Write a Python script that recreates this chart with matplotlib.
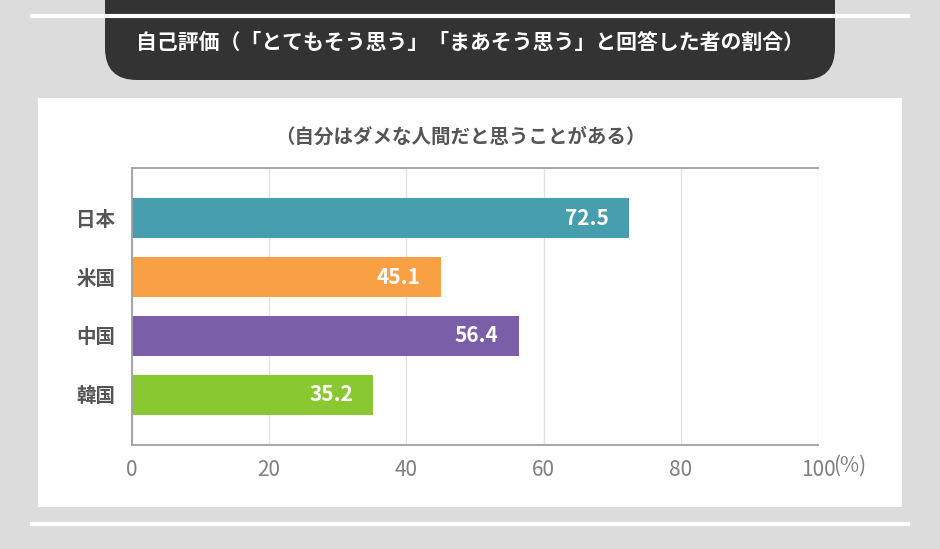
import matplotlib
matplotlib.use("Agg")
import matplotlib.pyplot as plt
from matplotlib.patches import FancyBboxPatch, Rectangle

plt.rcParams['font.family'] = ['Noto Sans CJK JP', 'DejaVu Sans']

title = "自己評価（「とてもそう思う」「まあそう思う」と回答した者の割合）"
subtitle = "（自分はダメな人間だと思うことがある）"
categories = ["日本", "米国", "中国", "韓国"]
values = [72.5, 45.1, 56.4, 35.2]
colors = ["#479EAF", "#F9A044", "#7A5FA8", "#8AC832"]
xticks = [0, 20, 40, 60, 80, 100]
xticklabels = ["0", "20", "40", "60", "80", "100"]
unit_label = "(%)"

W, H = 940, 549
fig = plt.figure(figsize=(W / 100, H / 100), dpi=100)
fig.patch.set_facecolor("#DCDCDC")

# background decoration axes in pixel coordinates
bg = fig.add_axes([0, 0, 1, 1], zorder=0)
bg.set_xlim(0, W)
bg.set_ylim(H, 0)
bg.axis("off")
bg.plot([30, 910], [16, 16], color="white", lw=3, solid_capstyle="butt")
bg.plot([30, 910], [524, 524], color="white", lw=3, solid_capstyle="butt")
bg.add_patch(FancyBboxPatch((105, -60), 730, 140,
                            boxstyle="round,pad=0,rounding_size=32",
                            facecolor="#333333", edgecolor="none"))
bg.text(470, 42, title, color="white", fontsize=15, fontweight="bold",
        ha="center", va="center")
bg.add_patch(Rectangle((38, 98), 864, 409, facecolor="white", edgecolor="none"))
bg.text(460, 137, subtitle, color="#555555", fontsize=14, fontweight="bold",
        ha="center", va="center")

# chart axes
ax = fig.add_axes([132 / W, 1 - 445 / H, (818 - 132) / W, (445 - 168) / H], zorder=1)
ax.set_facecolor("none")
ypos = list(range(len(categories)))
ax.barh(ypos, values, height=0.68, color=colors, zorder=2)
for y, v in zip(ypos, values):
    ax.text(v - 3, y, f"{v}", color="white", fontsize=15, fontweight="bold",
            ha="right", va="center", zorder=3)

ax.set_xlim(0, 100)
ax.set_ylim(3.85, -0.85)
ax.set_xticks(xticks)
ax.set_xticklabels(xticklabels)
ax.set_yticks(ypos)
ax.set_yticklabels(categories)
ax.tick_params(axis="x", length=0, pad=10, labelsize=15, labelcolor="#808080")
ax.tick_params(axis="y", length=0, pad=12, labelsize=14, labelcolor="#555555")
for lbl in ax.get_yticklabels():
    lbl.set_fontweight("bold")
ax.xaxis.grid(True, color="#E2E2E2", lw=1, zorder=0)
ax.set_axisbelow(True)
for s in ["top", "left", "bottom"]:
    ax.spines[s].set_color("#A0A0A0")
    ax.spines[s].set_linewidth(1.3)
ax.spines["right"].set_visible(False)

ax.text(1.022, -0.036, unit_label, transform=ax.transAxes, color="#808080",
        fontsize=15, ha="left", va="top")

fig.savefig("out.png", dpi=100, facecolor=fig.get_facecolor())
